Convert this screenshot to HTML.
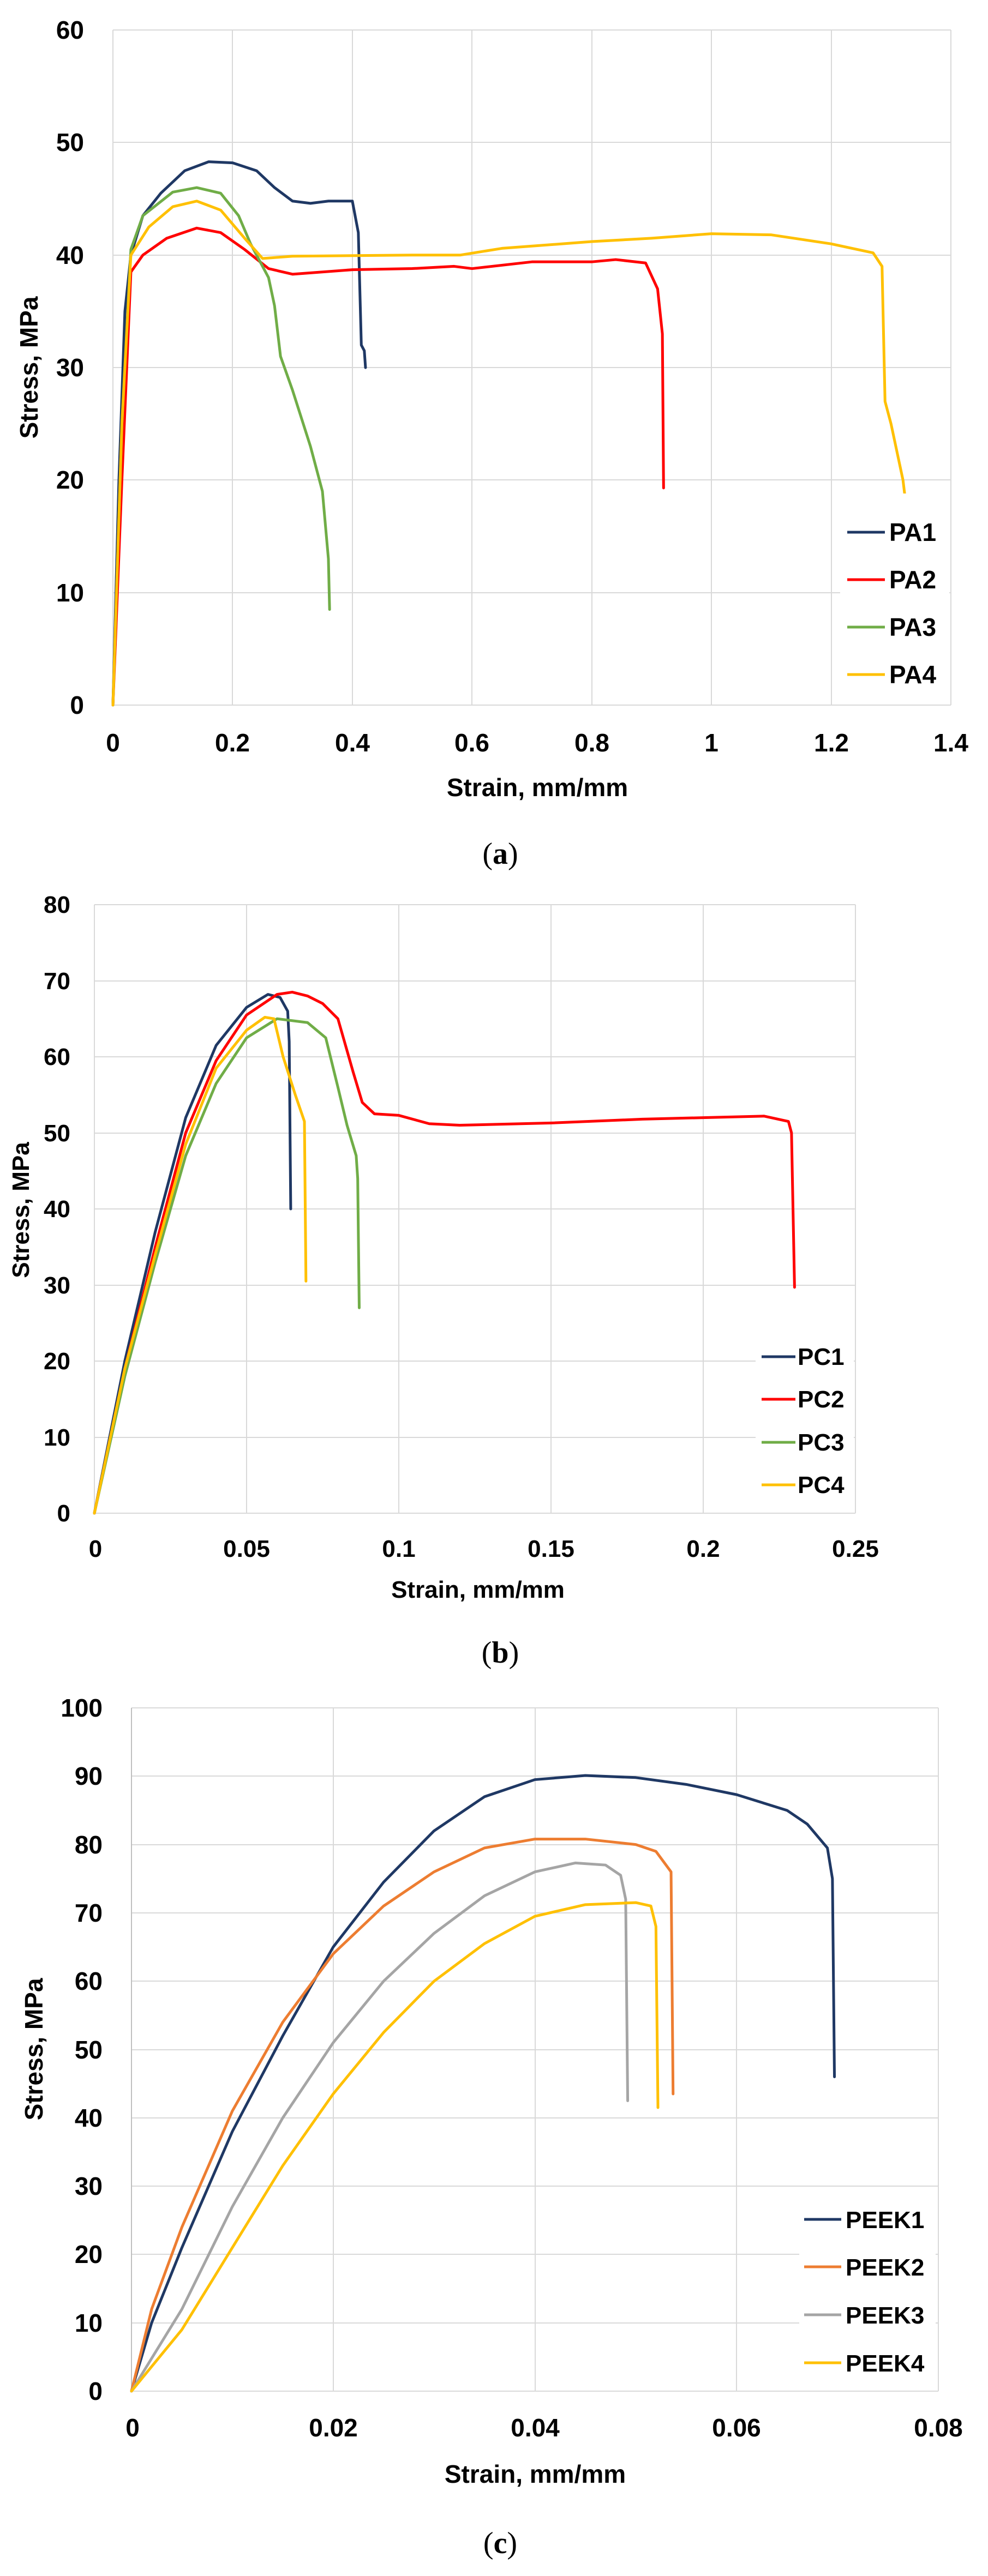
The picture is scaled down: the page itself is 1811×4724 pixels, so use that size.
<!DOCTYPE html>
<html><head><meta charset="utf-8"><style>
html,body{margin:0;padding:0;background:#fff;}
svg{display:block;}
.t{font-family:"Liberation Sans",Arial,sans-serif;font-weight:bold;fill:#000;}
.s{font-family:"Liberation Serif",serif;fill:#000;}
.g{stroke:#d9d9d9;stroke-width:2;fill:none;}
.c{fill:none;stroke-width:5;stroke-linejoin:round;stroke-linecap:round;vector-effect:non-scaling-stroke;}
</style></head><body>
<svg width="1811" height="4724" viewBox="0 0 1811 4724" xmlns="http://www.w3.org/2000/svg">
<rect width="1811" height="4724" fill="#fff"/>

<!-- ===== Chart A ===== -->
<g class="g">
<line x1="207" y1="55" x2="1743" y2="55"/><line x1="207" y1="261" x2="1743" y2="261"/><line x1="207" y1="468" x2="1743" y2="468"/><line x1="207" y1="674" x2="1743" y2="674"/><line x1="207" y1="880" x2="1743" y2="880"/><line x1="207" y1="1087" x2="1743" y2="1087"/><line x1="207" y1="1293" x2="1743" y2="1293"/>
<line x1="207" y1="55" x2="207" y2="1293"/><line x1="426" y1="55" x2="426" y2="1293"/><line x1="646" y1="55" x2="646" y2="1293"/><line x1="865" y1="55" x2="865" y2="1293"/><line x1="1085" y1="55" x2="1085" y2="1293"/><line x1="1304" y1="55" x2="1304" y2="1293"/><line x1="1524" y1="55" x2="1524" y2="1293"/><line x1="1743" y1="55" x2="1743" y2="1293"/>
</g>
<g class="t" font-size="46" text-anchor="end">
<text x="154" y="71">60</text><text x="154" y="277">50</text><text x="154" y="484">40</text><text x="154" y="690">30</text><text x="154" y="896">20</text><text x="154" y="1103">10</text><text x="154" y="1309">0</text>
</g>
<g class="t" font-size="46" text-anchor="middle">
<text x="207" y="1378">0</text><text x="426" y="1378">0.2</text><text x="646" y="1378">0.4</text><text x="865" y="1378">0.6</text><text x="1085" y="1378">0.8</text><text x="1304" y="1378">1</text><text x="1524" y="1378">1.2</text><text x="1743" y="1378">1.4</text>
<text x="985" y="1460">Strain, mm/mm</text>
<text transform="translate(69,674) rotate(-90)">Stress, MPa</text>
</g>
<g transform="translate(207,1293) scale(1097.1,-20.63)">
<polyline class="c" stroke="#1f3864" points="0,0 0.01,20 0.02,35 0.03,40 0.05,43.5 0.08,45.5 0.12,47.5 0.16,48.3 0.2,48.2 0.24,47.5 0.27,46 0.3,44.8 0.33,44.6 0.36,44.8 0.4,44.8 0.41,42 0.415,32 0.42,31.5 0.422,30"/>
<polyline class="c" stroke="#ff0000" points="0,0 0.015,20 0.03,38.5 0.05,40 0.09,41.5 0.14,42.4 0.18,42 0.22,40.5 0.26,38.8 0.3,38.3 0.4,38.7 0.5,38.8 0.57,39 0.6,38.8 0.7,39.4 0.8,39.4 0.84,39.6 0.89,39.3 0.91,37 0.918,33 0.92,19.3"/>
<polyline class="c" stroke="#70ad47" points="0,0 0.015,25 0.03,40.5 0.05,43.5 0.1,45.6 0.14,46 0.18,45.5 0.21,43.5 0.23,41 0.26,38 0.27,35.5 0.28,31 0.3,28 0.33,23 0.35,19 0.36,13 0.362,8.5"/>
<polyline class="c" stroke="#ffc000" points="0,0 0.015,25 0.03,40 0.06,42.5 0.1,44.3 0.14,44.8 0.18,44 0.22,41.5 0.25,39.7 0.3,39.9 0.5,40 0.58,40 0.65,40.6 0.8,41.2 0.9,41.5 1,41.9 1.1,41.8 1.2,41 1.27,40.2 1.285,39 1.29,27 1.3,25 1.32,20 1.325,17.8"/>
</g>
<rect x="1540" y="905" width="200" height="370" fill="#fff"/>
<g stroke-width="5"><line x1="1553" y1="976" x2="1622" y2="976" stroke="#1f3864"/><line x1="1553" y1="1063" x2="1622" y2="1063" stroke="#ff0000"/><line x1="1553" y1="1150" x2="1622" y2="1150" stroke="#70ad47"/><line x1="1553" y1="1237" x2="1622" y2="1237" stroke="#ffc000"/></g>
<g class="t" font-size="46"><text x="1630" y="992">PA1</text><text x="1630" y="1079">PA2</text><text x="1630" y="1166">PA3</text><text x="1630" y="1253">PA4</text></g>
<text class="s" x="917" y="1584" font-size="56" text-anchor="middle">(<tspan font-weight="bold">a</tspan>)</text>

<!-- ===== Chart B ===== -->
<g class="g">
<line x1="173" y1="1659" x2="1568" y2="1659"/><line x1="173" y1="1799" x2="1568" y2="1799"/><line x1="173" y1="1938" x2="1568" y2="1938"/><line x1="173" y1="2078" x2="1568" y2="2078"/><line x1="173" y1="2217" x2="1568" y2="2217"/><line x1="173" y1="2357" x2="1568" y2="2357"/><line x1="173" y1="2496" x2="1568" y2="2496"/><line x1="173" y1="2636" x2="1568" y2="2636"/><line x1="173" y1="2775" x2="1568" y2="2775"/>
<line x1="173" y1="1659" x2="173" y2="2775"/><line x1="452" y1="1659" x2="452" y2="2775"/><line x1="731" y1="1659" x2="731" y2="2775"/><line x1="1010" y1="1659" x2="1010" y2="2775"/><line x1="1289" y1="1659" x2="1289" y2="2775"/><line x1="1568" y1="1659" x2="1568" y2="2775"/>
</g>
<g class="t" font-size="44" text-anchor="end">
<text x="129" y="1674">80</text><text x="129" y="1814">70</text><text x="129" y="1953">60</text><text x="129" y="2093">50</text><text x="129" y="2232">40</text><text x="129" y="2372">30</text><text x="129" y="2511">20</text><text x="129" y="2651">10</text><text x="129" y="2790">0</text>
</g>
<g class="t" font-size="44" text-anchor="middle">
<text x="175" y="2855">0</text><text x="452" y="2855">0.05</text><text x="731" y="2855">0.1</text><text x="1010" y="2855">0.15</text><text x="1289" y="2855">0.2</text><text x="1568" y="2855">0.25</text>
<text x="876" y="2930">Strain, mm/mm</text>
<text transform="translate(53,2219) rotate(-90)">Stress, MPa</text>
</g>
<g transform="translate(173,2775) scale(5580,-13.95)">
<polyline class="c" stroke="#1f3864" points="0,0 0.01,20 0.02,37 0.03,52 0.04,61.5 0.05,66.5 0.057,68.2 0.061,67.8 0.0635,66 0.064,62 0.0645,40"/>
<polyline class="c" stroke="#ff0000" points="0,0 0.01,19 0.02,35 0.03,50 0.04,59.5 0.05,65.5 0.06,68.2 0.065,68.5 0.07,68 0.075,67 0.08,65 0.085,58 0.088,54 0.092,52.5 0.1,52.3 0.11,51.2 0.12,51 0.15,51.3 0.18,51.8 0.2,52 0.22,52.2 0.228,51.5 0.229,50 0.23,29.7"/>
<polyline class="c" stroke="#70ad47" points="0,0 0.01,18 0.02,33 0.03,47 0.04,56.5 0.05,62.5 0.06,65 0.07,64.5 0.076,62.5 0.08,56 0.083,51 0.086,47 0.0865,44 0.087,27"/>
<polyline class="c" stroke="#ffc000" points="0,0 0.01,19 0.02,34 0.03,48.5 0.04,58.5 0.05,63.5 0.056,65.2 0.059,65 0.062,60 0.066,55 0.069,51.5 0.0695,30.5"/>
</g>
<rect x="1385" y="2450" width="180" height="310" fill="#fff"/>
<g stroke-width="5"><line x1="1396" y1="2488" x2="1458" y2="2488" stroke="#1f3864"/><line x1="1396" y1="2566" x2="1458" y2="2566" stroke="#ff0000"/><line x1="1396" y1="2645" x2="1458" y2="2645" stroke="#70ad47"/><line x1="1396" y1="2723" x2="1458" y2="2723" stroke="#ffc000"/></g>
<g class="t" font-size="44"><text x="1462" y="2503">PC1</text><text x="1462" y="2581">PC2</text><text x="1462" y="2660">PC3</text><text x="1462" y="2738">PC4</text></g>
<text class="s" x="917" y="3049" font-size="56" text-anchor="middle">(<tspan font-weight="bold">b</tspan>)</text>

<!-- ===== Chart C ===== -->
<g class="g">
<line x1="241" y1="3132" x2="1720" y2="3132"/><line x1="241" y1="3257" x2="1720" y2="3257"/><line x1="241" y1="3383" x2="1720" y2="3383"/><line x1="241" y1="3508" x2="1720" y2="3508"/><line x1="241" y1="3633" x2="1720" y2="3633"/><line x1="241" y1="3759" x2="1720" y2="3759"/><line x1="241" y1="3884" x2="1720" y2="3884"/><line x1="241" y1="4009" x2="1720" y2="4009"/><line x1="241" y1="4134" x2="1720" y2="4134"/><line x1="241" y1="4260" x2="1720" y2="4260"/><line x1="241" y1="4385" x2="1720" y2="4385"/>
<line x1="611" y1="3132" x2="611" y2="4385"/><line x1="981" y1="3132" x2="981" y2="4385"/><line x1="1350" y1="3132" x2="1350" y2="4385"/><line x1="1720" y1="3132" x2="1720" y2="4385"/>
<line x1="241" y1="3132" x2="241" y2="4385" stroke="#bfbfbf"/>
</g>
<g class="t" font-size="46" text-anchor="end">
<text x="188" y="3148">100</text><text x="188" y="3273">90</text><text x="188" y="3399">80</text><text x="188" y="3524">70</text><text x="188" y="3649">60</text><text x="188" y="3775">50</text><text x="188" y="3900">40</text><text x="188" y="4025">30</text><text x="188" y="4150">20</text><text x="188" y="4276">10</text><text x="188" y="4401">0</text>
</g>
<g class="t" font-size="46" text-anchor="middle">
<text x="243" y="4468">0</text><text x="611" y="4468">0.02</text><text x="981" y="4468">0.04</text><text x="1350" y="4468">0.06</text><text x="1720" y="4468">0.08</text>
<text x="981" y="4553">Strain, mm/mm</text>
<text transform="translate(78,3758) rotate(-90)">Stress, MPa</text>
</g>
<g transform="translate(241,4385) scale(18487,-12.53)">
<polyline class="c" stroke="#1f3864" points="0,0 0.002,10 0.005,21 0.01,38 0.015,52 0.02,65 0.025,74.5 0.03,82 0.035,87 0.04,89.5 0.045,90.1 0.05,89.8 0.055,88.8 0.06,87.3 0.065,85 0.067,83 0.069,79.5 0.0695,75 0.0697,46"/>
<polyline class="c" stroke="#ed7d31" points="0,0 0.002,12 0.005,24 0.01,41 0.015,54 0.02,64 0.025,71 0.03,76 0.035,79.5 0.04,80.8 0.045,80.8 0.05,80 0.052,79 0.0535,76 0.0537,43.5"/>
<polyline class="c" stroke="#a5a5a5" points="0,0 0.005,12 0.01,27 0.015,40 0.02,51 0.025,60 0.03,67 0.035,72.5 0.04,76 0.044,77.3 0.047,77 0.0485,75.5 0.049,72 0.0492,42.5"/>
<polyline class="c" stroke="#ffc000" points="0,0 0.005,9 0.01,21 0.015,33 0.02,43.5 0.025,52.5 0.03,60 0.035,65.5 0.04,69.5 0.045,71.2 0.05,71.5 0.0515,71 0.052,68 0.0522,41.5"/>
</g>
<rect x="1465" y="4030" width="250" height="340" fill="#fff"/>
<g stroke-width="5"><line x1="1474" y1="4070" x2="1542" y2="4070" stroke="#1f3864"/><line x1="1474" y1="4157" x2="1542" y2="4157" stroke="#ed7d31"/><line x1="1474" y1="4245" x2="1542" y2="4245" stroke="#a5a5a5"/><line x1="1474" y1="4333" x2="1542" y2="4333" stroke="#ffc000"/></g>
<g class="t" font-size="44"><text x="1550" y="4086">PEEK1</text><text x="1550" y="4173">PEEK2</text><text x="1550" y="4261">PEEK3</text><text x="1550" y="4349">PEEK4</text></g>
<text class="s" x="917" y="4682" font-size="56" text-anchor="middle">(<tspan font-weight="bold">c</tspan>)</text>
</svg>
</body></html>
